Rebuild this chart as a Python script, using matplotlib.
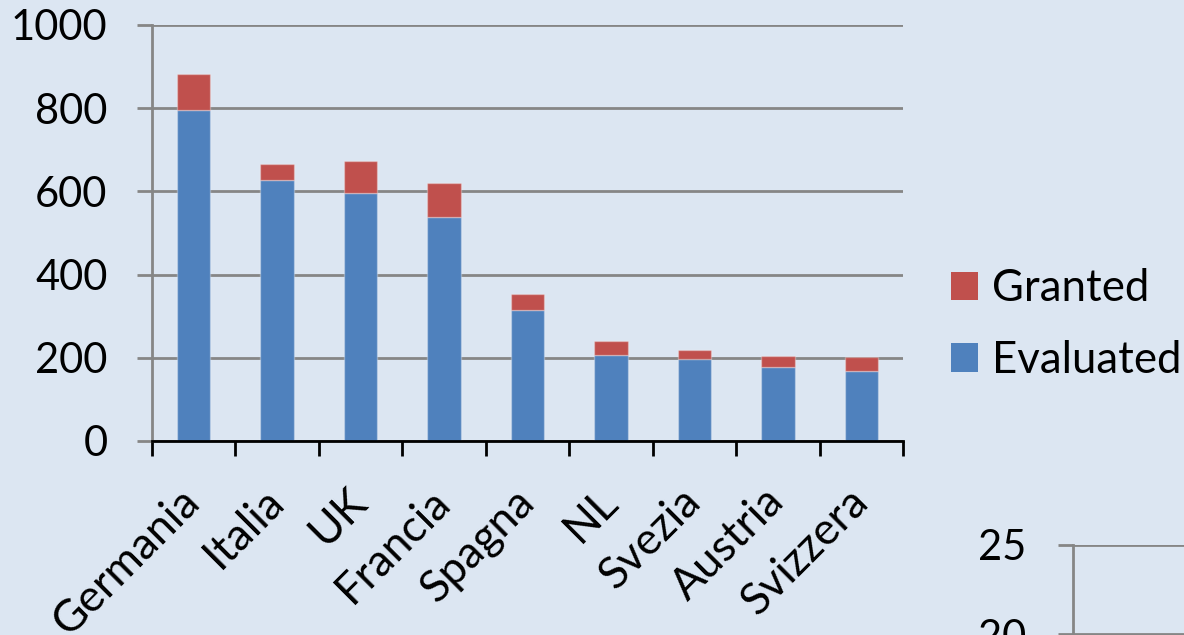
import matplotlib
matplotlib.use("Agg")
import matplotlib.pyplot as plt
from matplotlib.patches import Patch
import numpy as np

categories = ['Germania', 'Italia', 'UK', 'Francia', 'Spagna', 'NL', 'Svezia', 'Austria', 'Svizzera']
evaluated = [796, 627, 596, 538, 314, 207, 197, 179, 169]
granted = [86, 39, 77, 82, 39, 34, 21, 26, 33]
y_ticks = [0, 200, 400, 600, 800, 1000]
y2_ticks = [0, 5, 10, 15, 20, 25]

BG = '#DCE6F2'
BLUE = '#4F81BD'
RED = '#C0504D'
GRID = '#868686'
FS = 30

plt.rcParams['font.family'] = ['Lato', 'DejaVu Sans']

W, H = 1184, 635
fig = plt.figure(figsize=(W / 100, H / 100), dpi=100, facecolor=BG)

ax = fig.add_axes([152 / W, 1 - 441 / H, (903 - 152) / W, (441 - 25) / H])
ax.set_facecolor(BG)
x = np.arange(len(categories))
edge = (1, 1, 1, 0.3)
ax.bar(x, evaluated, width=0.40, color=BLUE, edgecolor=edge, linewidth=1, zorder=3, label='Evaluated')
ax.bar(x, granted, bottom=evaluated, width=0.40, color=RED, edgecolor=edge, linewidth=1, zorder=3, label='Granted')

ax.set_xlim(-0.5, len(categories) - 0.5)
ax.set_ylim(0, 1000)
ax.set_yticks(y_ticks)
ax.set_yticklabels([str(v) for v in y_ticks], fontsize=FS)
ax.yaxis.grid(True, color=GRID, linewidth=2, zorder=0)
ax.set_axisbelow(True)
ax.tick_params(axis='y', direction='out', length=11, width=2, color=GRID, pad=21)

# x ticks at category boundaries, labels at centres
ax.set_xticks(np.arange(len(categories) + 1) - 0.5)
ax.set_xticklabels([])
ax.set_xticks(x, minor=True)
ax.set_xticklabels(categories, minor=True, fontsize=32, rotation=45, ha='right', va='center',
                   rotation_mode='anchor')
ax.tick_params(axis='x', which='major', direction='out', length=11, width=2, color='black')
ax.tick_params(axis='x', which='minor', length=0, pad=39)

for s in ['top', 'right']:
    ax.spines[s].set_visible(False)
ax.spines['left'].set_color(GRID)
ax.spines['left'].set_linewidth(2)
ax.spines['bottom'].set_color('black')
ax.spines['bottom'].set_linewidth(2)
ax.spines['bottom'].set_zorder(4)

handles = [Patch(facecolor=RED, edgecolor='none'), Patch(facecolor=BLUE, edgecolor='none')]
fig.legend(handles, ['Granted', 'Evaluated'], loc='center left',
           bbox_to_anchor=(951 / W, 1 - 324.5 / H), frameon=False, fontsize=31.5,
           handlelength=0.62, handleheight=0.62, handletextpad=0.32, labelspacing=0.7,
           borderpad=0, borderaxespad=0)

# partially visible second chart (bottom right)
ax2 = fig.add_axes([1073 / W, 1 - 545 / H - 445 / H, 0.2, 445 / H])
ax2.set_facecolor(BG)
ax2.set_ylim(0, 25)
ax2.set_yticks(y2_ticks)
ax2.set_yticklabels([str(v) for v in y2_ticks], fontsize=FS)
ax2.set_xticks([])
ax2.yaxis.grid(True, color=GRID, linewidth=2)
ax2.tick_params(axis='y', direction='out', length=11, width=2, color=GRID, pad=23)
for s in ['top', 'right', 'bottom']:
    ax2.spines[s].set_visible(False)
ax2.spines['left'].set_color(GRID)
ax2.spines['left'].set_linewidth(2)

fig.savefig('out.png', dpi=100, facecolor=BG)
